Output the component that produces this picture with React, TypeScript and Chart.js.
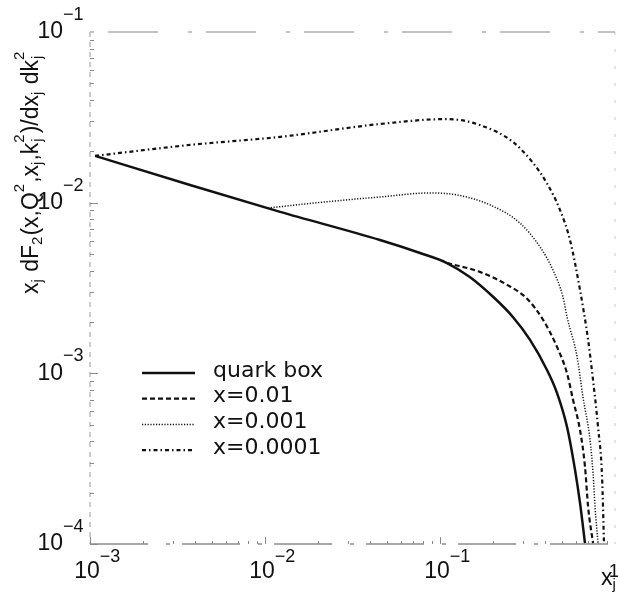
import React, { useEffect, useRef } from "react";
import { Chart, registerables } from "chart.js";

Chart.register(...registerables);

// ---- data ----
const seriesLabels = ["quark box", "x=0.01", "x=0.001", "x=0.0001"];

const quarkBoxXj = [0.00107, 0.00373, 0.0122, 0.0454, 0.0769, 0.1096, 0.148, 0.201, 0.261, 0.327, 0.408, 0.466, 0.532, 0.591, 0.631, 0.674];
const quarkBoxF = [0.0188, 0.0127, 0.00883, 0.00604, 0.00507, 0.00443, 0.00367, 0.00281, 0.00214, 0.00157, 0.00105, 0.000768, 0.000485, 0.000272, 0.000174, 0.000101];

const x001Xj = [0.1096, 0.169, 0.242, 0.315, 0.388, 0.466, 0.532, 0.576, 0.631, 0.674, 0.702, 0.749];
const x001F = [0.00443, 0.00393, 0.0033, 0.00273, 0.00206, 0.00143, 0.001, 0.000698, 0.000466, 0.000283, 0.000165, 0.000101];

const x0001Xj = [0.0104, 0.02, 0.0454, 0.0877, 0.125, 0.193, 0.286, 0.373, 0.442, 0.504, 0.532, 0.607, 0.656, 0.72, 0.749, 0.769, 0.8];
const x0001F = [0.0093, 0.01, 0.0108, 0.0114, 0.0111, 0.0097, 0.0076, 0.0055, 0.00403, 0.00281, 0.00214, 0.00125, 0.000728, 0.000407, 0.000261, 0.000165, 0.000101];

const x00001Xj = [0.00107, 0.00373, 0.0122, 0.0454, 0.1096, 0.169, 0.261, 0.34, 0.408, 0.485, 0.553, 0.631, 0.702, 0.749, 0.8, 0.844, 0.865];
const x00001F = [0.0188, 0.0218, 0.0243, 0.0289, 0.0309, 0.0285, 0.0227, 0.0171, 0.013, 0.00906, 0.00604, 0.00308, 0.00157, 0.000914, 0.000485, 0.000244, 0.000101];

const xTickValues = [0.001, 0.01, 0.1];
const xTickExponents = ["\u22123", "\u22122", "\u22121"];
const xEndTickValue = 1;
const xEndTickLabel = "1";
const yTickValues = [0.0001, 0.001, 0.01, 0.1];
const yTickExponents = ["\u22124", "\u22123", "\u22122", "\u22121"];

const yTitleParts: [string, string][] = [
  ["x", "n"], ["j", "sub"], [" dF", "n"], ["2", "sub"], ["(x,Q", "n"], ["2", "sup"],
  [",x", "n"], ["j", "sub"], [",k", "n"], ["j|2", "subsup"], [")/dx", "n"], ["j", "sub"],
  [" dk", "n"], ["j|2", "subsup"],
];
const xTitleParts: [string, string][] = [["x", "n"], ["j", "sub"]];

const pts = (xs: number[], ys: number[]) => xs.map((x, i) => ({ x, y: ys[i] }));

const INK = "#111";
const TICK_FONT = "'Liberation Sans', Arial, sans-serif";
const LEGEND_FONT = "'DejaVu Sans', sans-serif";

function drawRich(ctx: CanvasRenderingContext2D, parts: [string, string][], x0: number, y0: number, main: number, small: number, subDy: number, supDy: number) {
  let x = x0;
  ctx.textAlign = "left";
  ctx.textBaseline = "alphabetic";
  const mf = `${main}px ${TICK_FONT}`;
  const sf = `${small}px ${TICK_FONT}`;
  for (const [t, mode] of parts) {
    if (mode === "n") {
      ctx.font = mf;
      ctx.fillText(t, x, y0);
      x += ctx.measureText(t).width;
    } else if (mode === "sub" || mode === "sup") {
      ctx.font = sf;
      ctx.fillText(t, x, y0 + (mode === "sub" ? subDy : supDy));
      x += ctx.measureText(t).width + 1;
    } else {
      const [a, b] = t.split("|");
      ctx.font = sf;
      ctx.fillText(a, x + 1, y0 + subDy);
      ctx.fillText(b, x, y0 + supDy);
      x += Math.max(ctx.measureText(a).width + 1, ctx.measureText(b).width) + 1;
    }
  }
  return x - x0;
}

const decorPlugin = {
  id: "decor",
  afterDraw(chart: any) {
    const ctx: CanvasRenderingContext2D = chart.ctx;
    const { left, right, top, bottom } = chart.chartArea;
    const xs = chart.scales.x;
    const ys = chart.scales.y;
    ctx.save();

    // frame (faint, broken like the scan)
    ctx.lineWidth = 1;
    ctx.strokeStyle = "#9a9a9a";
    ctx.setLineDash([5, 5]);
    ctx.beginPath(); ctx.moveTo(left, top); ctx.lineTo(left, bottom); ctx.stroke();
    ctx.strokeStyle = "#c8c8c8";
    ctx.setLineDash([3, 14]);
    ctx.beginPath(); ctx.moveTo(right, top); ctx.lineTo(right, bottom); ctx.stroke();
    ctx.lineWidth = 1.3;
    ctx.strokeStyle = "#8c8c8c";
    ctx.setLineDash([58, 18, 4, 12]);
    ctx.beginPath(); ctx.moveTo(left, bottom); ctx.lineTo(right, bottom); ctx.stroke();
    ctx.strokeStyle = "#b0b0b0";
    ctx.setLineDash([4, 14, 50, 30]);
    ctx.beginPath(); ctx.moveTo(left, top); ctx.lineTo(right, top); ctx.stroke();
    ctx.setLineDash([]);

    // ticks on the left axis (major + minor, inward)
    ctx.strokeStyle = "#8a8a8a";
    ctx.lineWidth = 1;
    for (let e = -4; e <= -2; e++) {
      for (let m = 1; m <= 9; m++) {
        const v = m * Math.pow(10, e);
        const py = Math.round(ys.getPixelForValue(v)) + 0.5;
        const len = m === 1 ? 8 : 4;
        ctx.beginPath(); ctx.moveTo(left, py); ctx.lineTo(left + len, py); ctx.stroke();
      }
    }
    // ticks on bottom axis
    for (let e = -3; e <= -1; e++) {
      for (let m = 1; m <= 9; m++) {
        const v = m * Math.pow(10, e);
        const px = Math.round(xs.getPixelForValue(v)) + 0.5;
        const len = m === 1 ? 7 : 3;
        ctx.beginPath(); ctx.moveTo(px, bottom); ctx.lineTo(px, bottom - len); ctx.stroke();
      }
    }

    ctx.fillStyle = INK;
    // y tick labels
    yTickValues.forEach((v, i) => {
      const py = ys.getPixelForValue(v);
      ctx.textBaseline = "middle";
      ctx.font = `23px ${TICK_FONT}`;
      ctx.textAlign = "right";
      ctx.fillText("10", left - 27, py);
      ctx.font = `18px ${TICK_FONT}`;
      ctx.textAlign = "left";
      ctx.fillText(yTickExponents[i], left - 27, py - 17);
    });
    // x tick labels
    xTickValues.forEach((v, i) => {
      const px = xs.getPixelForValue(v);
      ctx.textBaseline = "middle";
      ctx.font = `23px ${TICK_FONT}`;
      ctx.textAlign = "center";
      ctx.fillText("10", px - 3, bottom + 28);
      const w = ctx.measureText("10").width;
      ctx.font = `18px ${TICK_FONT}`;
      ctx.textAlign = "left";
      ctx.fillText(xTickExponents[i], px - 3 + w / 2, bottom + 13);
    });
    {
      const px = xs.getPixelForValue(xEndTickValue);
      ctx.font = `19px ${TICK_FONT}`;
      ctx.textAlign = "center";
      ctx.textBaseline = "middle";
      ctx.fillText(xEndTickLabel, px - 1, bottom + 28);
    }

    // x title
    drawRich(ctx, xTitleParts, right - 14, bottom + 41, 23, 15, 4, -12);

    // y title (rotated)
    ctx.save();
    ctx.translate(left - 52, bottom - 250);
    ctx.rotate(-Math.PI / 2);
    drawRich(ctx, yTitleParts, 0, 0, 23, 15, 4, -14);
    ctx.restore();

    // legend
    const lx = left + 52;
    const ly = top + 341;
    const gap = 25.7;
    chart.data.datasets.forEach((ds: any, i: number) => {
      const y = ly + i * gap;
      ctx.strokeStyle = ds.borderColor;
      ctx.lineWidth = ds.borderWidth;
      ctx.setLineDash(ds.borderDash || []);
      ctx.beginPath(); ctx.moveTo(lx, y); ctx.lineTo(lx + 53, y); ctx.stroke();
      ctx.setLineDash([]);
      ctx.fillStyle = INK;
      ctx.font = `22px ${LEGEND_FONT}`;
      ctx.textAlign = "left";
      ctx.textBaseline = "middle";
      ctx.fillText(ds.label, lx + 71, y - 2);
    });

    ctx.restore();
  },
};

export default function App() {
  const ref = useRef<HTMLCanvasElement | null>(null);
  useEffect(() => {
    if (!ref.current) return;
    const common = { pointRadius: 0, fill: false, cubicInterpolationMode: "monotone" as const, borderColor: INK, borderCapStyle: "butt" as const };
    const chart = new Chart(ref.current, {
      type: "line",
      data: {
        datasets: [
          { ...common, label: seriesLabels[0], data: pts(quarkBoxXj, quarkBoxF), borderWidth: 2.5, borderDash: [] },
          { ...common, label: seriesLabels[1], data: pts(x001Xj, x001F), borderWidth: 2.2, borderDash: [5, 3] },
          { ...common, label: seriesLabels[2], data: pts(x0001Xj, x0001F), borderWidth: 1.5, borderDash: [1.2, 1.6] },
          { ...common, label: seriesLabels[3], data: pts(x00001Xj, x00001F), borderWidth: 2.2, borderDash: [4, 3, 1.5, 3] },
        ],
      },
      options: {
        responsive: false,
        animation: false,
        events: [],
        layout: { padding: { left: 90, right: 3, top: 32, bottom: 48 } },
        plugins: { legend: { display: false }, tooltip: { enabled: false } },
        scales: {
          x: { type: "logarithmic", min: 0.001, max: 1, display: false },
          y: { type: "logarithmic", min: 0.0001, max: 0.1, display: false },
        },
      },
      plugins: [decorPlugin],
    });
    return () => chart.destroy();
  }, []);
  return (
    <div style={{ position: "absolute", left: 0, top: 0, width: 618, height: 592, background: "#fff" }}>
      <canvas ref={ref} width={618} height={592} style={{ display: "block" }} />
    </div>
  );
}
